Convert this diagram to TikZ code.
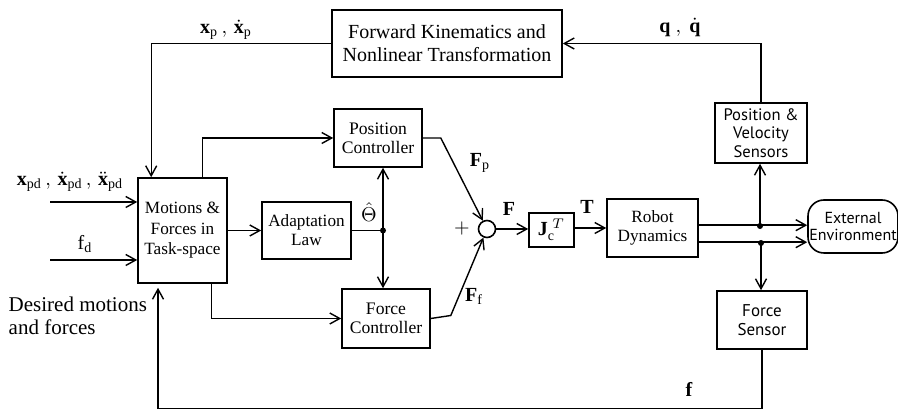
\documentclass[tikz,border=0pt]{standalone}
\usepackage{fontspec}
\setmainfont{Liberation Serif}
\newfontfamily\optfont{PT Sans}
\usetikzlibrary{arrows.meta,calc}
\begin{document}
\begin{tikzpicture}[x=0.5pt,y=-0.5pt, line width=0.7pt,
  arr/.style={-{Straight Barb[length=5pt,width=5.5pt,line width=0.7pt]}},
  blk/.style={draw, line width=0.8pt, inner sep=0pt, align=center},
  dot/.style={circle, fill, inner sep=0pt, minimum size=3pt},
  lab/.style={inner sep=0pt, font=\fontsize{10}{12}\selectfont}]
\useasboundingbox (0,0) rectangle (898,410);
\clip (0,0) rectangle (898,410);

% blocks
\node[blk, minimum width=115pt, minimum height=33.5pt, font=\fontsize{10}{11.5}\selectfont] (fk) at (447,43.5) {Forward Kinematics and\\Nonlinear Transformation};
\node[blk, minimum width=44.5pt, minimum height=52.5pt, font=\fontsize{8.6}{10.3}\selectfont] (mot) at (182.5,230.5) {Motions \&\\Forces in\\Task-space};
\node[blk, minimum width=44pt, minimum height=29pt, font=\fontsize{8.8}{9.5}\selectfont] (pc) at (378,138) {Position\\Controller};
\node[blk, minimum width=44.5pt, minimum height=28.5pt, font=\fontsize{8.6}{9.5}\selectfont] (al) at (306.5,230.5) {Adaptation\\Law};
\node[blk, minimum width=44pt, minimum height=29.5pt, font=\fontsize{8.8}{9.5}\selectfont] (fc) at (386,318.5) {Force\\Controller};
\node[draw, circle, minimum size=8.5pt, inner sep=0pt, line width=0.8pt] (sum) at (487,229) {};
\node[blk, minimum width=22.5pt, minimum height=17pt] (jc) at (551.5,230) {$\mathbf{J}_{\mathrm{c}}^{\;T}$};
\node[blk, minimum width=45.5pt, minimum height=29pt, font=\fontsize{8.6}{9.5}\selectfont] (rd) at (652.5,228) {Robot\\Dynamics};
\node[blk, minimum width=46pt, minimum height=30pt, font=\optfont\fontsize{8.3}{9.2}\selectfont] (pvs) at (761,133) {Position \&\\Velocity\\Sensors};
\node[blk, minimum width=45pt, minimum height=29pt, font=\optfont\fontsize{8.5}{9.5}\selectfont] (fs) at (762,320) {Force\\Sensor};
\node[blk, rounded corners=8pt, minimum width=45pt, minimum height=26.5pt, font=\optfont\fontsize{8}{9}\selectfont] (env) at (853,226.5) {External\\Environment};

% coordinates
\coordinate (inx) at (50,202);
\coordinate (inf) at (50,260);
\coordinate (j1) at (383,230.5);
\coordinate (ru) at ($(rd.north east)+(0,27)$);
\coordinate (rl) at ($(rd.north east)+(0,44)$);
\coordinate (j2) at (760,226);
\coordinate (j3) at (761,243);
\coordinate (cb) at (158,408.5);

% connectors
\draw[arr] (pvs.north) |- (fk.east);
\draw[arr] (fk.west) -| ($(mot.north west)+(14,0)$);
\draw[arr] ($(mot.north west)+(65,0)$) |- (pc.west);
\draw[arr] (mot.east) -- (al.west);
\draw (al.east) -- (j1);
\draw[arr] (j1) -- (j1 |- pc.south);
\draw[arr] (j1) -- (j1 |- fc.north);
\draw[arr] ($(mot.south west)+(74,0)$) |- (fc.west);
\draw[arr] (inx) -- (inx -| mot.west);
\draw[arr] (inf) -- (inf -| mot.west);
\draw[arr] (pc.east) -- ++(18,0) -- (sum);
\draw[arr] (fc.east) -- ++(20,-3) -- (sum);
\draw[arr] (sum.east) -- (sum.east -| jc.west);
\draw[arr] ($(jc.east)+(0,-2)$) -- ($(jc.east -| rd.west)+(0,-2)$);
\draw[arr] (ru) -- (ru -| env.west);
\draw[arr] (rl) -- (rl -| env.west);
\draw[arr] (j2) -- (j2 |- pvs.south);
\draw[arr] (j3) -- (j3 |- fs.north);
\draw[arr] (fs.south) |- (cb) -- ($(cb |- mot.south)+(0,4)$);
\node[dot] at (j1) {};
\node[dot] at (j2) {};
\node[dot] at (j3) {};

% labels
\node[lab] at (226,30) {$\mathbf{x}_{\mathrm{p}}\,,\,\dot{\mathbf{x}}_{\mathrm{p}}$};
\node[lab] at (680,27) {$\mathbf{q}\ ,\ \dot{\mathbf{q}}$};
\node[lab] at (70,182) {$\mathbf{x}_{\mathrm{pd}}\,,\,\dot{\mathbf{x}}_{\mathrm{pd}}\,,\,\ddot{\mathbf{x}}_{\mathrm{pd}}$};
\node[lab] at (85,244) {$\mathrm{f}_{\mathrm{d}}$};
\node[lab, anchor=west, align=left, font=\fontsize{10.5}{11.8}\selectfont] at (8,316) {Desired motions\\and forces};
\node[lab] at (369,212) {$\hat{\Theta}$};
\node[lab] at (480,163) {$\mathbf{F}_{\mathrm{p}}$};
\node[lab] at (474,296) {$\mathbf{F}_{\mathrm{f}}$};
\node[lab] at (462,229) {$+$};
\node[lab] at (509,209) {$\mathbf{F}$};
\node[lab] at (587,207) {$\mathbf{T}$};
\node[lab] at (689,389) {$\mathbf{f}$};
\end{tikzpicture}
\end{document}
